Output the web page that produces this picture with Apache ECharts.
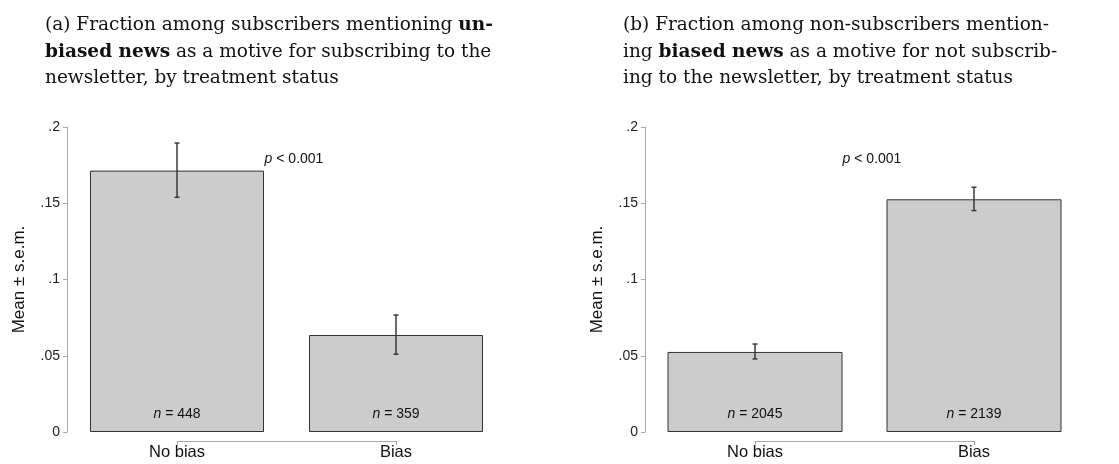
<!DOCTYPE html>
<html>
<head>
<meta charset="utf-8">
<script src="https://cdn.jsdelivr.net/npm/echarts@6/dist/echarts.min.js"></script>
<style>html,body{margin:0;padding:0;background:#fff;}#c{width:1119px;height:464px;}</style>
</head>
<body>
<div id="c"></div>
<script>
// ---- data ----
const categories = ['No bias', 'Bias'];
const meansA = [0.1714, 0.0636];
const lowA = [0.1539, 0.0510];
const highA = [0.1895, 0.0767];
const nA = [448, 359];
const meansB = [0.0525, 0.1526];
const lowB = [0.0479, 0.1452];
const highB = [0.0577, 0.1605];
const nB = [2045, 2139];
const pLabels = ['p < 0.001', 'p < 0.001'];
const pPos = [[0.40, 0.179], [0.40, 0.179]];
const yTicks = [0, 0.05, 0.1, 0.15, 0.2];
const yTickLabels = ['0', '.05', '.1', '.15', '.2'];
const titles = [
  '(a) Fraction among subscribers mentioning {b|un-}\n{b|biased news} as a motive for subscribing to the\nnewsletter, by treatment status',
  '(b) Fraction among non-subscribers mention-\ning {b|biased news} as a motive for not subscrib-\ning to the newsletter, by treatment status'
];
const yName = 'Mean \u00b1 s.e.m.';

const SANS = '"Liberation Sans", Arial, sans-serif';
const SERIF = '"DejaVu Serif", "Liberation Serif", serif';
const chart = echarts.init(document.getElementById('c'), null, {renderer: 'canvas'});

const grids = [
  {left: 177, width: 219, top: 127, height: 305},
  {left: 755, width: 219, top: 127, height: 305}
];

function yAxis(i) {
  return {
    gridIndex: i, type: 'value', min: 0, max: 0.2, interval: 0.05, offset: 110,
    name: yName, nameLocation: 'middle', nameGap: 39, nameRotate: 90,
    nameTextStyle: {fontFamily: SANS, fontSize: 17, color: '#111'},
    axisLine: {show: true, onZero: false, lineStyle: {color: '#aaa', width: 1}},
    axisTick: {show: true, inside: false, length: 4, lineStyle: {color: '#aaa'}},
    axisLabel: {fontFamily: SANS, fontSize: 14, color: '#222', margin: 7,
      formatter: v => { const k = yTicks.findIndex(t => Math.abs(t - v) < 1e-9); return k >= 0 ? yTickLabels[k] : ''; }},
    splitLine: {show: false}
  };
}
function xAxis(i) {
  return {
    gridIndex: i, type: 'value', min: 0, max: categories.length - 1, interval: 1, offset: 9,
    axisLine: {show: true, onZero: false, lineStyle: {color: '#aaa', width: 1}},
    axisTick: {show: true, inside: false, length: 4, lineStyle: {color: '#aaa'}},
    axisLabel: {fontFamily: SANS, fontSize: 16.5, color: '#111', margin: 3,
      formatter: v => categories[Math.round(v)] || ''},
    splitLine: {show: false}
  };
}

function barSeries(i, means, ns, bw) {
  return {
    type: 'bar', xAxisIndex: i, yAxisIndex: i, clip: false, barWidth: bw,
    data: means.map((m, k) => [k, m]),
    itemStyle: {color: '#cccccc', borderColor: '#333', borderWidth: 1},
    label: {
      show: true, position: 'insideBottom', distance: 11,
      formatter: p => '{i|n} = ' + ns[p.dataIndex],
      fontFamily: SANS, fontSize: 14, color: '#111',
      rich: {i: {fontFamily: SANS, fontSize: 14, fontStyle: 'italic', color: '#111'}}
    },
    silent: true, animation: false
  };
}
function errSeries(i, lo, hi) {
  return {
    type: 'custom', xAxisIndex: i, yAxisIndex: i, clip: false, z: 5,
    data: lo.map((l, k) => [k, l, hi[k]]),
    renderItem: (params, api) => {
      const a = api.coord([api.value(0), api.value(1)]);
      const b = api.coord([api.value(0), api.value(2)]);
      const w = 2.5;
      const st = {stroke: '#3a3a3a', lineWidth: 1.5};
      return {type: 'group', children: [
        {type: 'line', shape: {x1: a[0], y1: a[1], x2: b[0], y2: b[1]}, style: st},
        {type: 'line', shape: {x1: a[0] - w, y1: a[1], x2: a[0] + w, y2: a[1]}, style: st},
        {type: 'line', shape: {x1: b[0] - w, y1: b[1], x2: b[0] + w, y2: b[1]}, style: st}
      ]};
    },
    animation: false
  };
}
function pSeries(i) {
  return {
    type: 'custom', xAxisIndex: i, yAxisIndex: i, clip: false, z: 6,
    data: [pPos[i]],
    renderItem: (params, api) => {
      const c = api.coord([api.value(0), api.value(1)]);
      const parts = pLabels[i].split(' ');
      return {type: 'text', x: c[0], y: c[1], style: {
        text: '{i|' + parts[0] + '} ' + parts.slice(1).join(' '),
        fontFamily: SANS, fontSize: 14, fill: '#111', align: 'left', verticalAlign: 'middle',
        rich: {i: {fontFamily: SANS, fontSize: 14, fontStyle: 'italic', fill: '#111'}}
      }};
    },
    animation: false
  };
}

function titleOpt(i, left) {
  return {text: titles[i], left: left, top: 7, textStyle: {fontFamily: SERIF, fontSize: 18.5, fontWeight: 'normal', color: '#111', lineHeight: 26.5,
    rich: {b: {fontFamily: SERIF, fontSize: 18.5, fontWeight: 'bold', color: '#111', lineHeight: 26.5}}}};
}

const option = {
  animation: false,
  backgroundColor: '#fff',
  title: [titleOpt(0, 40), titleOpt(1, 618)],
  grid: grids,
  xAxis: [xAxis(0), xAxis(1)],
  yAxis: [yAxis(0), yAxis(1)],
  series: [
    barSeries(0, meansA, nA, 174), errSeries(0, lowA, highA), pSeries(0),
    barSeries(1, meansB, nB, 175), errSeries(1, lowB, highB), pSeries(1)
  ]
};
chart.setOption(option);
</script>
</body>
</html>
